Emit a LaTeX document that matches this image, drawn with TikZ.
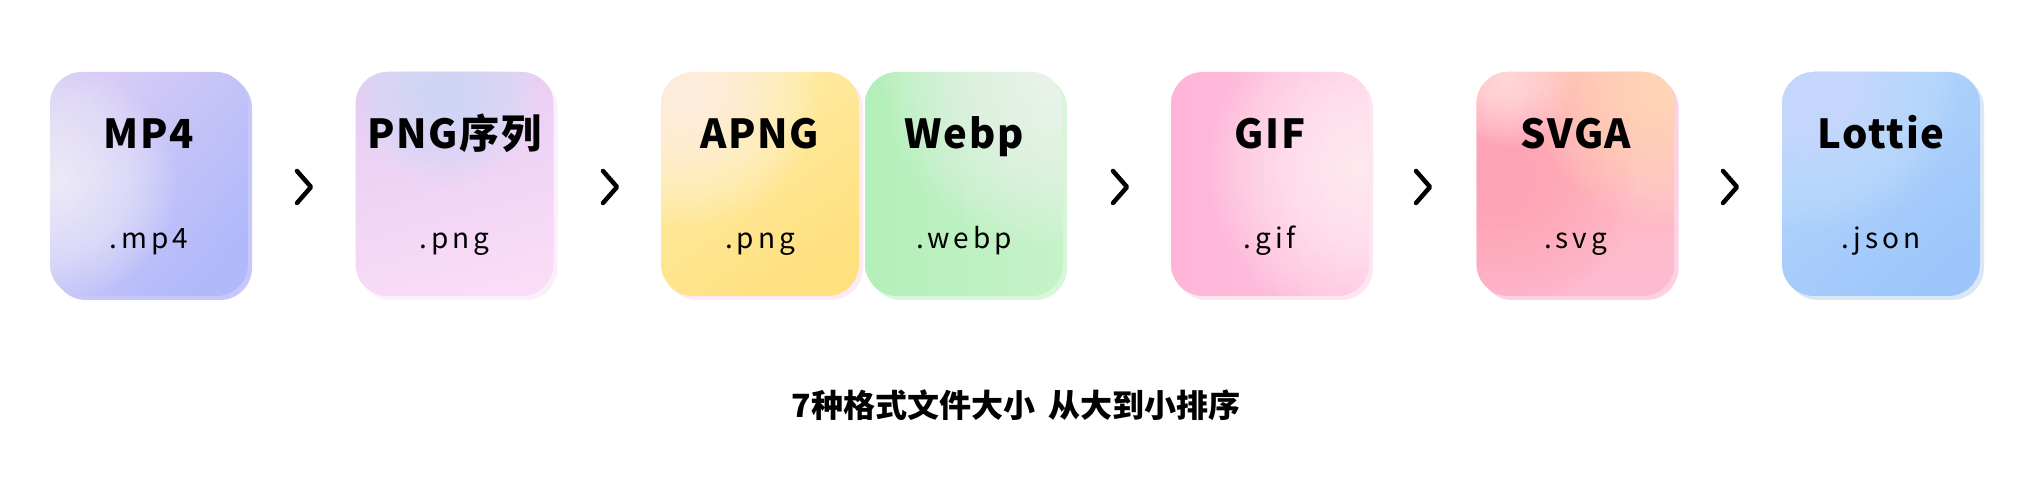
\documentclass[tikz,border=0pt]{standalone}
\usepackage{fontspec}
\setmainfont{Noto Sans CJK SC}
\newfontfamily\titlefont{Noto Sans CJK SC}[LetterSpace=4]
\newfontfamily\subfont{Noto Sans CJK SC}[LetterSpace=14]
\usetikzlibrary{calc}

\definecolor{mpA}{HTML}{D8CCF6}\definecolor{mpB}{HTML}{B0B9FA}\definecolor{mpS}{HTML}{C6C8FA}
\definecolor{pnA}{HTML}{E6CDF3}\definecolor{pnB}{HTML}{FADCF7}\definecolor{pnG}{HTML}{CDE4F8}\definecolor{pnS}{HTML}{FBEFFB}
\definecolor{apA}{HTML}{FEEBA6}\definecolor{apB}{HTML}{FEE07E}\definecolor{apS}{HTML}{FDEAF4}
\definecolor{weA}{HTML}{B3EFB9}\definecolor{weB}{HTML}{C6F2C8}\definecolor{weS}{HTML}{D8F6D9}
\definecolor{giA}{HTML}{FEB4D8}\definecolor{giB}{HTML}{FEC4E0}\definecolor{giS}{HTML}{FDE6F0}
\definecolor{svA}{HTML}{FFB6AE}\definecolor{svB}{HTML}{FDBBD3}\definecolor{svP}{HTML}{FFE6C6}\definecolor{svR}{HTML}{FFA3B6}\definecolor{svS}{HTML}{FDD0E2}
\definecolor{loA}{HTML}{B4D5FC}\definecolor{loB}{HTML}{9CC6FA}\definecolor{loG}{HTML}{D6E8FE}\definecolor{loS}{HTML}{DCE7F5}

\newcommand\glowdisc[5]{% color, dx, dy, radius, step opacity
  \foreach \k in {1,...,24}{\fill[#1, opacity=#5] ([shift={(#2,#3)}]path picture bounding box.south west) circle ({#4*\k/24});}}

\tikzset{
  card/.style={rounded corners=32pt, minimum width=198pt, minimum height=224pt, inner sep=0pt, draw=none},
  cardshadow/.style={card, fill=#1},
  glow/.style n args={5}{path picture={\glowdisc{#1}{#2}{#3}{#4}{#5}}},
  title/.style={font=\titlefont\bfseries\fontsize{40}{44}\selectfont, anchor=base, inner sep=0pt},
  subtitle/.style={font=\subfont\fontsize{28}{32}\selectfont, anchor=base, inner sep=0pt},
  chev/.style={line width=4.5pt, line cap=round, line join=round, black},
}

\begin{document}
\begin{tikzpicture}[x=1pt, y=1pt]
\useasboundingbox (0,0) rectangle (2035,489);
\fill[white] (0,0) rectangle (2035,489);

% shadows
\node[cardshadow=mpS] (mp4s) at (153,301) {};
\node[cardshadow=pnS] (pngs) at (458.5,301) {};
\node[cardshadow=apS] (apngs) at (764,301) {};
\node[cardshadow=weS] (webps) at (968,301) {};
\node[cardshadow=giS] (gifs) at (1274,301) {};
\node[cardshadow=svS] (svgas) at (1579.5,301) {};
\node[cardshadow=loS] (lotties) at (1885,301) {};

% cards
\node[card, top color=mpA, bottom color=mpB, shading angle=50, glow={white}{10}{112}{115}{0.05}] (mp4) at (149,305) {};
\node[card, top color=pnA, bottom color=pnB, shading angle=15,
  path picture={
    \glowdisc{pnG}{90}{200}{90}{0.06}
  }] (png) at (454.5,305) {};
\node[card, top color=apA, bottom color=apB, shading angle=35, glow={white}{28}{200}{130}{0.05}] (apng) at (760,305) {};
\node[card, left color=weA, right color=weB, glow={white}{185}{215}{165}{0.055}] (webp) at (964,305) {};
\node[card, left color=giA, right color=giB, glow={white}{188}{128}{150}{0.055}] (gif) at (1270,305) {};
\node[card, top color=svA, bottom color=svB,
  path picture={
    \glowdisc{svR}{18}{118}{140}{0.06}
    \glowdisc{svP}{195}{212}{140}{0.06}
    \glowdisc{white}{30}{215}{65}{0.04}
  }] (svga) at (1575.5,305) {};
\node[card, top color=loA, bottom color=loB, shading angle=40, glow={loG}{35}{205}{140}{0.055}] (lottie) at (1881,305) {};

% titles
\node[title] (mp4t) at (149,340) {MP4};
\node[title] (pngt) at (454.5,340) {PNG序列};
\node[title] (apngt) at (760,340) {APNG};
\node[title] (webpt) at (964,340) {Webp};
\node[title] (gift) at (1270,340) {GIF};
\node[title] (svgat) at (1575.5,340) {SVGA};
\node[title] (lottiet) at (1881,340) {Lottie};

% subtitles
\node[subtitle] (mp4e) at (149,240) {.mp4};
\node[subtitle] (pnge) at (454.5,240) {.png};
\node[subtitle] (apnge) at (760,240) {.png};
\node[subtitle] (webpe) at (964,240) {.webp};
\node[subtitle] (gife) at (1270,240) {.gif};
\node[subtitle] (svgae) at (1575.5,240) {.svg};
\node[subtitle] (lottiee) at (1881,240) {.json};

% chevrons
\foreach \n/\x in {a1/304, a2/610, a3/1120, a4/1423, a5/1730}{
  \coordinate (\n) at (\x,302);
  \draw[chev] ([shift={(-7,16)}]\n) -- ([shift={(7,0)}]\n) -- ([shift={(-7,-16)}]\n);
}

% caption
\node[font=\bfseries\fontsize{32}{36}\selectfont, inner sep=0pt] (caption) at (1016,84) {7种格式文件大小\hspace{6pt} 从大到小排序};
\end{tikzpicture}
\end{document}
